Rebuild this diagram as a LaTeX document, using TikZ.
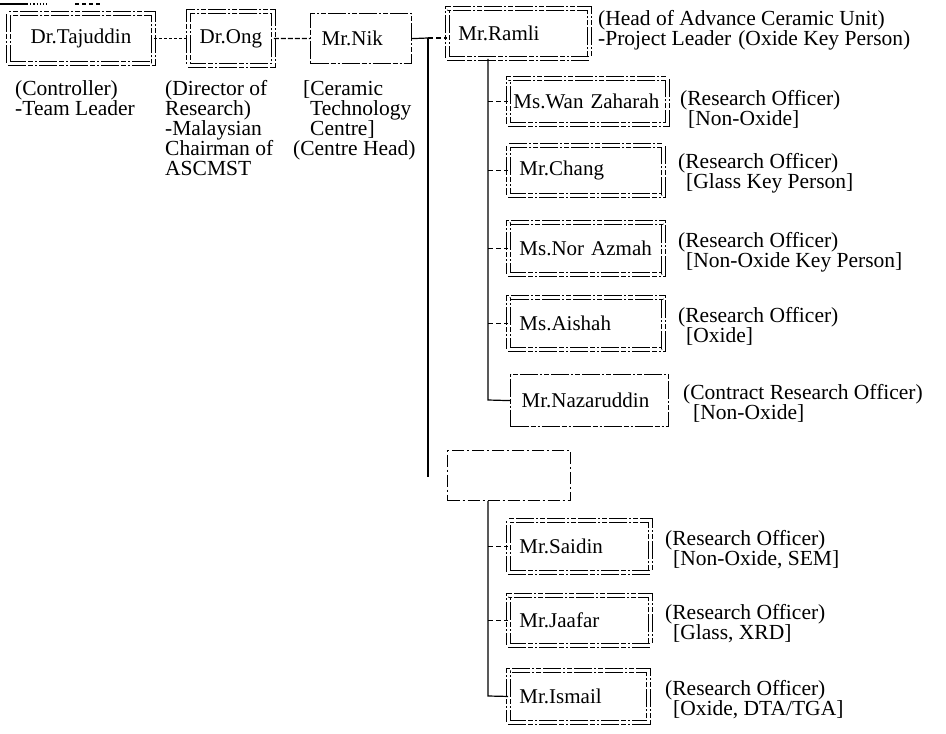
\documentclass[tikz,border=0pt]{standalone}
\usepackage{fontspec}
\setmainfont{Liberation Serif}
\newcommand\bx{\fontsize{21}{20}\selectfont}
\newcommand\ax{\fontsize{21.5}{20}\selectfont}
\begin{document}
\begin{tikzpicture}[x=1pt,y=-1pt,
  pline/.style={line width=1.2pt, dash pattern=on 18pt off 2pt on 5pt off 2pt on 2pt off 2pt},
  sbox/.style={draw, pline, rectangle, anchor=north west, inner xsep=11pt, inner ysep=0pt, align=left, font=\bx},
  dbox/.style={sbox, line width=0.9pt, double, double distance=2.4pt},
  ebox/.style={sbox, dash pattern=on 12pt off 3pt on 2pt off 3pt},
  ann/.style={anchor=north west, inner sep=0pt, align=left, font=\ax},
  link/.style={line width=1.2pt},
  stub/.style={line width=1.2pt, dash pattern=on 5pt off 3pt}]
\useasboundingbox (0,0) rectangle (946,734);

% top-left fragment
\coordinate (f1) at (0,4); \coordinate (f2) at (27,4); \coordinate (f3) at (47,4);
\coordinate (f4) at (75,4); \coordinate (f5) at (100,4);
\draw[line width=1.5pt] (f1) -- (f2);
\draw[line width=1.2pt, dotted] (f2) -- (f3);
\draw[line width=1.2pt, dash pattern=on 4pt off 3pt] (f4) -- (f5);

% boxes
\node[dbox, minimum height=50pt, text width=123pt, align=center] (taj) at (8,13) {Dr.Tajuddin};
\node[dbox, minimum height=54pt, text width=63pt, align=center] (ong) at (188,11) {Dr.Ong};
\node[sbox, minimum height=50pt, text width=79pt] (nik) at (310,13) {Mr.Nik};
\node[dbox, minimum height=50pt, text width=120pt] (ramli) at (447,8) {Mr.Ramli};
\node[dbox, minimum height=46pt, inner xsep=5pt, text width=149pt] (wan) at (508,78) {\mbox{Ms.Wan Zaharah}};
\node[dbox, minimum height=50pt, text width=133pt] (chang) at (508,145) {Mr.Chang};
\node[dbox, minimum height=52pt, text width=133pt] (nor) at (508,222) {Ms.Nor Azmah};
\node[dbox, minimum height=52pt, text width=133pt] (aishah) at (508,297) {Ms.Aishah};
\node[sbox, minimum height=52pt, text width=136pt] (naz) at (510,374) {Mr.Nazaruddin};
\node[ebox, minimum height=50pt, text width=101pt] (empty) at (447,450) {};
\node[dbox, minimum height=52pt, text width=120pt] (saidin) at (508,520) {Mr.Saidin};
\node[dbox, minimum height=50pt, text width=120pt] (jaafar) at (508,595) {Mr.Jaafar};
\node[dbox, minimum height=52pt, text width=118pt] (ismail) at (508,670) {Mr.Ismail};

% connectors
\coordinate (nikj) at (428,38);
\coordinate (nikend) at (428,477);
\coordinate (rv) at (488,400);
\coordinate (ev) at (488,696);
\draw[line width=1.2pt, dash pattern=on 3pt off 2pt] (taj.east) -- (ong.west);
\draw[line width=1.2pt, dash pattern=on 5pt off 2pt] (ong.east) -- (nik.west);
\draw[link] (nik.east) -- (nikj);
\draw[stub] (nikj) -- (ramli.west |- nikj);
\draw[link] (nikj) -- (nikend);
\draw[link] (ramli.south -| rv) -- (rv) -- (naz.west);
\foreach \b in {wan,chang,nor,aishah} \draw[stub] (\b.west -| rv) -- (\b.west);
\draw[link] (empty.south -| ev) -- (ev) -- (ismail.west);
\foreach \b in {saidin,jaafar} \draw[stub] (\b.west -| ev) -- (\b.west);

% annotations
\node[ann] (tajann) at (15,80) {(Controller)\\-Team Leader};
\node[ann] (ongann) at (165,80) {(Director of\\Research)\\-Malaysian\\Chairman of\\ASCMST};
\node[ann] (nikann) at (293,80) {\hspace*{10pt}[Ceramic\\\hspace*{17pt}Technology\\\hspace*{17pt}Centre]\\(Centre Head)};
\node[ann] (ramliann) at (598,10) {(Head of Advance Ceramic Unit)\\-Project Leader\hspace{7pt}(Oxide Key Person)};
\node[ann] (wanann) at (680,90) {(Research Officer)\\\hspace*{8pt}[Non-Oxide]};
\node[ann] (changann) at (678,153) {(Research Officer)\\\hspace*{8pt}[Glass Key Person]};
\node[ann] (norann) at (678,232) {(Research Officer)\\\hspace*{8pt}[Non-Oxide Key Person]};
\node[ann] (aishahann) at (678,307) {(Research Officer)\\\hspace*{8pt}[Oxide]};
\node[ann] (nazann) at (683,384) {(Contract Research Officer)\\\hspace*{10pt}[Non-Oxide]};
\node[ann] (saidinann) at (665,530) {(Research Officer)\\\hspace*{8pt}[Non-Oxide, SEM]};
\node[ann] (jaafarann) at (665,604) {(Research Officer)\\\hspace*{8pt}[Glass, XRD]};
\node[ann] (ismailann) at (665,680) {(Research Officer)\\\hspace*{8pt}[Oxide, DTA/TGA]};
\end{tikzpicture}
\end{document}
